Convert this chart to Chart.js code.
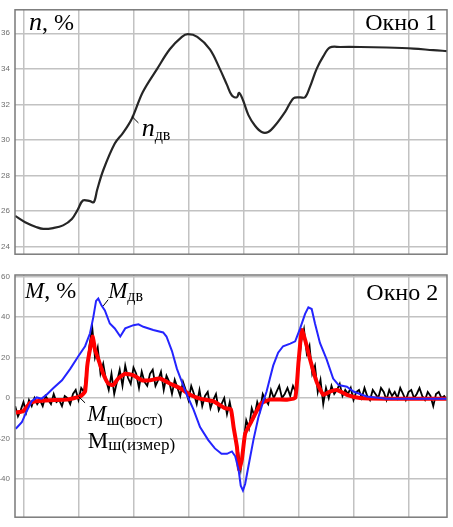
<!DOCTYPE html>
<html>
<head>
<meta charset="utf-8">
<script src="https://cdn.jsdelivr.net/npm/chart.js@4.4.1/dist/chart.umd.min.js"></script>
<style>
    html, body { margin: 0; padding: 0; background: #fff; }
    canvas { display: block; }
</style>
</head>
<body>
<canvas id="win1" width="453" height="264"></canvas>
<canvas id="win2" width="453" height="263"></canvas>
<script>
// time axis: one grid division per unit
const timeTicks = [0, 1, 2, 3, 4, 5, 6, 7];
const nTicks = [24, 26, 28, 30, 32, 34, 36];
const mTicks = [-40, -20, 0, 20, 40, 60];

// Окно 1: n_дв
const nTime = [-0.16, 0.02, 0.23, 0.35, 0.53, 0.71, 0.87, 0.98, 1.07, 1.2, 1.27, 1.33, 1.44, 1.65, 1.8, 1.96,
    2.16, 2.42, 2.65, 2.87, 2.98, 3.15, 3.38, 3.56, 3.69, 3.78, 3.87, 3.91, 3.98, 4.08, 4.2, 4.32, 4.44,
    4.56, 4.75, 4.9, 5.02, 5.11, 5.2, 5.32, 5.44, 5.56, 5.75, 6.11, 6.59, 7.08, 7.44, 7.69];
const nValues = [25.73, 25.38, 25.1, 25.0, 25.05, 25.2, 25.56, 26.1, 26.6, 26.56, 26.5, 27.2, 28.3, 29.8, 30.4, 31.2,
    32.7, 34.0, 35.1, 35.8, 35.95, 35.8, 35.1, 34.0, 33.1, 32.5, 32.4, 32.65, 32.25, 31.4, 30.8, 30.45, 30.45,
    30.8, 31.6, 32.35, 32.4, 32.4, 33.0, 34.0, 34.7, 35.2, 35.23, 35.23, 35.2, 35.14, 35.05, 35.0];

// Окно 2: M_дв (blue)
const mDvTime = [-0.15, -0.04, 0.05, 0.14, 0.23, 0.32, 0.41, 0.53, 0.69, 0.84, 0.99, 1.11, 1.2, 1.26, 1.31, 1.35,
    1.41, 1.47, 1.56, 1.65, 1.75, 1.84, 1.99, 2.08, 2.17, 2.35, 2.53, 2.59, 2.69, 2.78, 2.87, 2.96, 3.08,
    3.2, 3.35, 3.47, 3.59, 3.69, 3.78, 3.84, 3.9, 3.94, 3.98, 4.02, 4.08, 4.17, 4.26, 4.35, 4.41, 4.47,
    4.53, 4.62, 4.71, 4.84, 4.93, 5.02, 5.11, 5.17, 5.23, 5.29, 5.38, 5.5, 5.62, 5.72, 5.87, 5.99, 6.23,
    6.59, 7.69];
const mDvValues = [-15.2, -12, -6.4, -1.6, 0.3, -0.3, 1.6, 4.8, 8.8, 14.4, 20.8, 25.6, 32, 40, 48, 49.2,
    45.7, 43.3, 36.8, 34.4, 30.4, 34.4, 36, 36.4, 35.2, 33.6, 32.4, 30.4, 23.2, 14.4, 8, 1.6, -5.6,
    -14.4, -20.8, -24.9, -27.6, -27.6, -26.4, -28.8, -35.3, -43.3, -45.7, -42.5, -33.7, -20.8, -9.6, -1.6, 3.2, 9.6,
    16, 22.4, 25.6, 26.9, 28, 34.4, 41.6, 44.8, 44, 36.8, 27.2, 19.2, 9.6, 6.4, 5.6, 3.2, 0.8,
    -0.3, -0.3];

// M_ш(вост) (red)
const mVostTime = [-0.15, -0.01, 0.11, 0.23, 0.47, 0.78, 1.02, 1.11, 1.15, 1.21, 1.25, 1.29, 1.35, 1.44, 1.53, 1.62,
    1.71, 1.84, 1.99, 2.14, 2.29, 2.47, 2.65, 2.84, 3.02, 3.2, 3.44, 3.59, 3.65, 3.76, 3.81, 3.87, 3.91,
    3.96, 4.02, 4.11, 4.23, 4.32, 4.47, 4.78, 4.93, 4.99, 5.05, 5.11, 5.2, 5.32, 5.44, 5.56, 5.69, 5.87,
    6.11, 6.59, 7.69];
const mVostValues = [-7.2, -6.4, -2.4, -1.6, -1.1, -0.8, 0.8, 3.2, 16, 25.6, 30.4, 24, 19.2, 12, 7.2, 6.4,
    9.6, 12, 11.2, 8.8, 8.8, 9.6, 7.2, 4.8, 1.6, -0.3, -1.6, -4, -5, -5.6, -14.4, -24, -35.3,
    -30.5, -17.6, -12.8, -6.4, -2.4, -0.8, -0.8, 0, 17.6, 33.6, 28.8, 19.2, 8, 1.6, 3.2, 4, 1.6,
    0, -0.3, -0.3];

// M_ш(измер) (black), sampled every 0.05 from -0.16
const mIzmStart = -0.16;
const mIzmStep = 0.05;
const mIzmValues = [
    -4, -9, -6, -2, -7, -1, -4, 0, -3, -1,
    -4, 1, -1, -3, 2, -2, -1, -4, 1, 0,
    -3, 2, 4, -1, 5, 3, 14, 26, 35, 20,
    25, 12, 17, 9, 4, 12, 2, 8, 14, 6,
    16, 10, 7, 15, 12, 5, 13, 8, 6, 12,
    14, 6, 9, 13, 4, 11, 8, 2, 9, 5,
    1, 8, 4, -1, 6, 2, -3, 4, -4, 1,
    3, -5, -1, 2, -6, -3, 0, -8, -2, -9,
    -20, -26, -35, -22, -11, -15, -5, -9, -2, -6,
    2, -1, -3, 4, 0, 3, 6, 0, 2, 5,
    1, 6, 3, 15, 28, 34, 22, 26, 12, 16,
    3, 9, -3, 5, 0, 6, 2, 4, 7, 1,
    4, 2, 5, -1, 3, 4, 0, 5, 1, -1,
    4, 2, 0, 5, 3, -1, 4, 1, 3, 0,
    5, 2, -1, 3, 4, 0, 2, 5, 1, -1,
    3, 1, -4, 2, 3, 0, 1, -1
];

function toPoints(xs, ys) {
    return ys.map((y, i) => ({ x: xs[i], y: y }));
}

const mIzmPoints = mIzmValues.map((y, i) => ({ x: +(mIzmStart + i * mIzmStep).toFixed(2), y: y }));

const gridStyle = { color: "#c2c2c2", lineWidth: 1.5, drawTicks: false };

function makeScales(yMin, yMax, yTicks) {
    return {
        x: {
            type: "linear",
            min: -0.164,
            max: 7.69,
            afterBuildTicks: s => { s.ticks = timeTicks.map(v => ({ value: v })); },
            afterFit: s => { s.height = 0; },
            ticks: { display: false },
            grid: gridStyle,
            border: { display: false }
        },
        y: {
            type: "linear",
            min: yMin,
            max: yMax,
            afterBuildTicks: s => { s.ticks = yTicks.map(v => ({ value: v })); },
            afterFit: s => { s.width = 15; },
            ticks: {
                font: { family: "Liberation Sans", size: 8 },
                color: "#6e6e6e",
                padding: 5
            },
            grid: gridStyle,
            border: { display: false }
        }
    };
}

// frame round the plot area and the hand-placed labels
const windowNotes = {
    id: "windowNotes",
    afterDraw(chart, args, opts) {
        const ctx = chart.ctx;
        const a = chart.chartArea;
        const sx = chart.scales.x, sy = chart.scales.y;
        ctx.save();
        ctx.strokeStyle = "#7a7a7a";
        ctx.lineWidth = 1.5;
        ctx.strokeRect(a.left, a.top, a.right - a.left, a.bottom - a.top);

        ctx.fillStyle = "#000";
        ctx.strokeStyle = "#000";
        ctx.lineWidth = 1;
        ctx.textBaseline = "alphabetic";
        (opts.notes || []).forEach(note => {
            if (note.lead) {
                ctx.beginPath();
                ctx.moveTo(sx.getPixelForValue(note.lead[0][0]), sy.getPixelForValue(note.lead[0][1]));
                ctx.lineTo(sx.getPixelForValue(note.lead[1][0]), sy.getPixelForValue(note.lead[1][1]));
                ctx.stroke();
            }
            const fonts = note.parts.map(p =>
                (p.it ? "italic " : "") + p.size + "px 'Liberation Serif', 'DejaVu Serif', serif");
            let total = 0;
            note.parts.forEach((p, i) => { ctx.font = fonts[i]; total += ctx.measureText(p.t).width; });
            let x = sx.getPixelForValue(note.at[0]);
            const y = sy.getPixelForValue(note.at[1]);
            if (note.align === "right") x -= total;
            ctx.textAlign = "left";
            note.parts.forEach((p, i) => {
                ctx.font = fonts[i];
                ctx.fillText(p.t, x, y + (p.dy || 0));
                x += ctx.measureText(p.t).width;
            });
        });
        ctx.restore();
    }
};

new Chart(document.getElementById("win1").getContext("2d"), {
    type: "line",
    data: {
        datasets: [{
            label: "n_дв",
            data: toPoints(nTime, nValues),
            borderColor: "#262626",
            borderWidth: 2.2,
            pointRadius: 0,
            tension: 0.35
        }]
    },
    options: {
        responsive: false,
        animation: false,
        layout: { padding: { left: 0, right: 6, top: 6, bottom: 8 } },
        scales: makeScales(23.58, 37.32, nTicks),
        plugins: {
            legend: { display: false },
            tooltip: { enabled: false },
            windowNotes: {
                notes: [
                    { at: [0.09, 36.18], parts: [{ t: "n", it: true, size: 26 }, { t: ", %", size: 24 }] },
                    { at: [7.51, 36.19], align: "right", parts: [{ t: "Окно 1", size: 24 }] },
                    {
                        at: [2.14, 30.23],
                        parts: [{ t: "n", it: true, size: 26 }, { t: "дв", size: 16, dy: 4 }],
                        lead: [[1.96, 31.33], [2.08, 30.96]]
                    }
                ]
            }
        }
    },
    plugins: [windowNotes]
});

new Chart(document.getElementById("win2").getContext("2d"), {
    type: "line",
    data: {
        datasets: [
            {
                label: "M_дв",
                data: toPoints(mDvTime, mDvValues),
                borderColor: "#2424ff",
                borderWidth: 2,
                pointRadius: 0,
                tension: 0
            },
            {
                label: "M_ш(вост)",
                data: toPoints(mVostTime, mVostValues),
                borderColor: "#ff0000",
                borderWidth: 4,
                pointRadius: 0,
                tension: 0.15
            },
            {
                label: "M_ш(измер)",
                data: mIzmPoints,
                borderColor: "#000000",
                borderWidth: 1.8,
                pointRadius: 0,
                tension: 0
            }
        ]
    },
    options: {
        responsive: false,
        animation: false,
        layout: { padding: { left: 0, right: 6, top: 11, bottom: 2 } },
        scales: makeScales(-58.9, 60.8, mTicks),
        plugins: {
            legend: { display: false },
            tooltip: { enabled: false },
            windowNotes: {
                notes: [
                    { at: [0.02, 49.4], parts: [{ t: "M", it: true, size: 23 }, { t: ", %", size: 24 }] },
                    {
                        at: [1.53, 49.4],
                        parts: [{ t: "M", it: true, size: 23 }, { t: "дв", size: 16, dy: 3 }],
                        lead: [[1.44, 45.5], [1.53, 48.6]]
                    },
                    { at: [7.53, 48.3], align: "right", parts: [{ t: "Окно 2", size: 24 }] },
                    {
                        at: [1.15, -11.2],
                        parts: [{ t: "M", it: true, size: 23 }, { t: "ш(вост)", size: 17, dy: 4 }],
                        lead: [[0.99, 0.77], [1.11, -2.4]]
                    },
                    { at: [1.16, -24.7], parts: [{ t: "M", size: 23 }, { t: "ш(измер)", size: 17, dy: 2 }] }
                ]
            }
        }
    },
    plugins: [windowNotes]
});
</script>
</body>
</html>
